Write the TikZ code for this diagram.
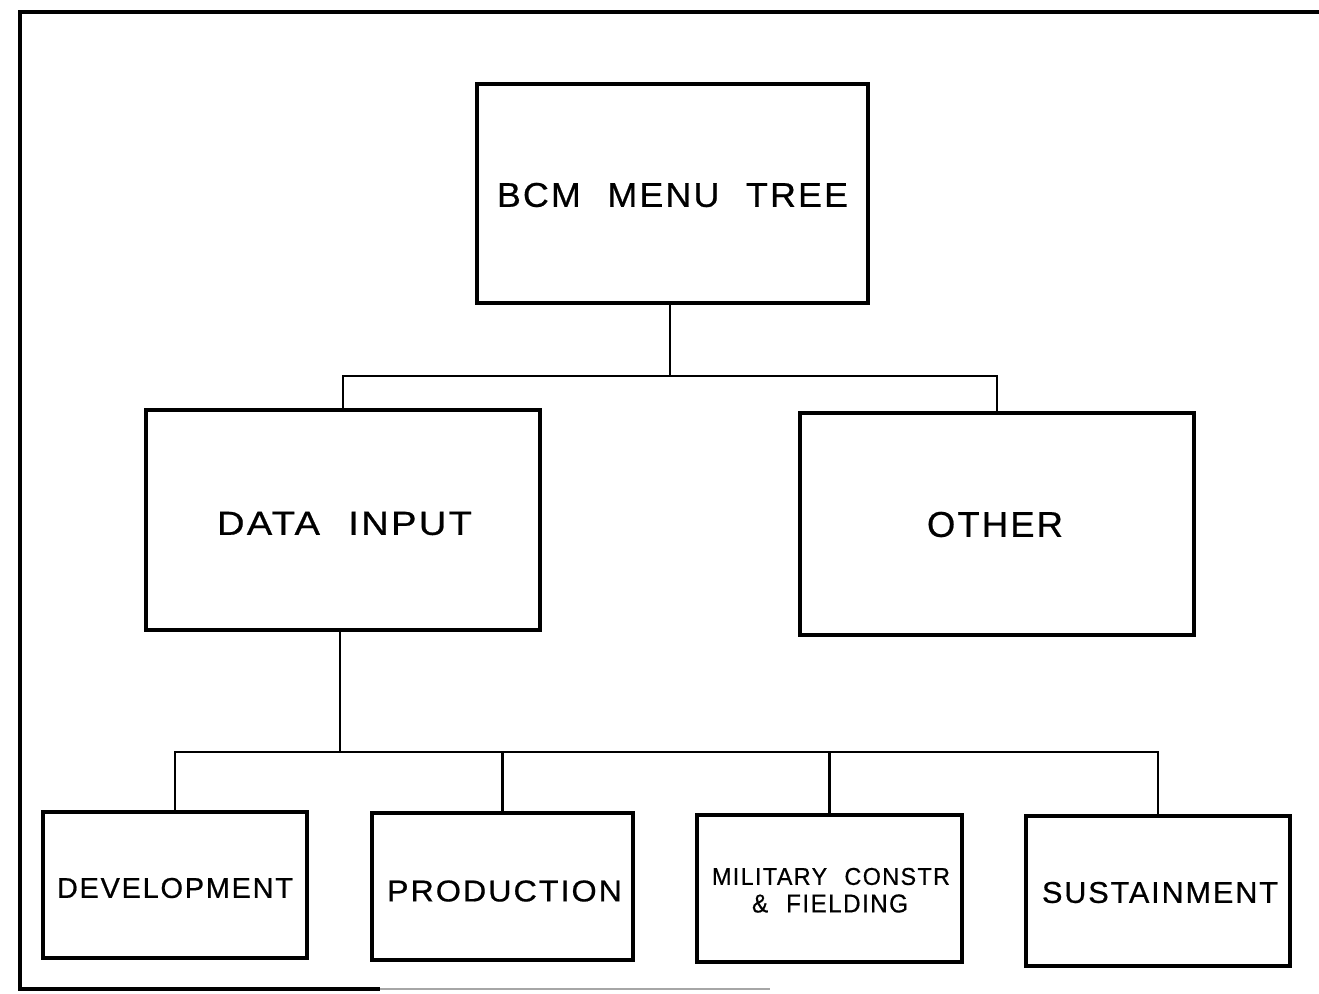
\documentclass[tikz,border=0pt]{standalone}
\usepackage{fontspec}
\usepackage{graphicx}
\newfontfamily\lettering[LetterSpace=6,WordSpace=2.2,FakeBold=0.6]{Liberation Sans}
\newlength\pxu
\setlength\pxu{0.75pt}
% lettering stretched to a given width and cap height (in pixel units)
\newcommand\lbl[3]{\resizebox{#1\pxu}{#2\pxu}{\lettering #3}}
\begin{document}
\begin{tikzpicture}[x=0.75pt,y=-0.75pt,
  box/.style={draw=black,line width=2.3pt,inner sep=0pt},
  link/.style={draw=black,line width=1.6pt},
  txt/.style={inner sep=0pt}]
\useasboundingbox (0,0) rectangle (1319,993);
% outer frame (left, top and bottom edges)
\draw[line width=2.3pt] (1319,12) -- (20,12) -- (20,989) -- (380,989);
\draw[line width=1.6pt,black!35] (380,989) -- (770,989);

% boxes
\node[box,minimum width=391*0.75pt,minimum height=219*0.75pt] (root) at (672.5,193.5) {};
\node[box,minimum width=394*0.75pt,minimum height=220*0.75pt] (data) at (343,520) {};
\node[box,minimum width=394*0.75pt,minimum height=222*0.75pt] (other) at (997,524) {};
\node[box,minimum width=264*0.75pt,minimum height=146*0.75pt] (dev) at (175,885) {};
\node[box,minimum width=261*0.75pt,minimum height=147*0.75pt] (prod) at (502.5,886.5) {};
\node[box,minimum width=265*0.75pt,minimum height=147*0.75pt] (mil) at (829.5,888.5) {};
\node[box,minimum width=264*0.75pt,minimum height=150*0.75pt] (sus) at (1158,891) {};

% labels
\node[txt] (rootT) at (672.5,195) {\lbl{351}{24}{BCM MENU TREE}};
\node[txt] (dataT) at (344.5,523.5) {\lbl{255}{23}{DATA INPUT}};
\node[txt] (otherT) at (995,524.5) {\lbl{136}{25}{OTHER}};
\node[txt] (devT) at (175,888) {\lbl{236}{20}{DEVELOPMENT}};
\node[txt] (prodT) at (504.5,891) {\lbl{235}{21}{PRODUCTION}};
\node[txt] (milT1) at (831,876.5) {\lbl{238}{17}{MILITARY CONSTR}};
\node[txt] (milT2) at (830,903.5) {\lbl{156}{18}{\& FIELDING}};
\node[txt] (susT) at (1160,892.5) {\lbl{236}{21}{SUSTAINMENT}};

% branch points
\coordinate (j1) at (670,376);
\coordinate (j2) at (340,752);

% connectors
\draw[link] (root.south -| j1) -- (j1);
\draw[link] (data.north) |- (j1) -| (other.north);
\draw[link] (data.south -| j2) -- (j2);
\draw[link] (dev.north) |- (j2) -| (sus.north);
\draw[link] (prod.north) -- (prod.north |- j2);
\draw[link] (mil.north) -- (mil.north |- j2);
\end{tikzpicture}
\end{document}
